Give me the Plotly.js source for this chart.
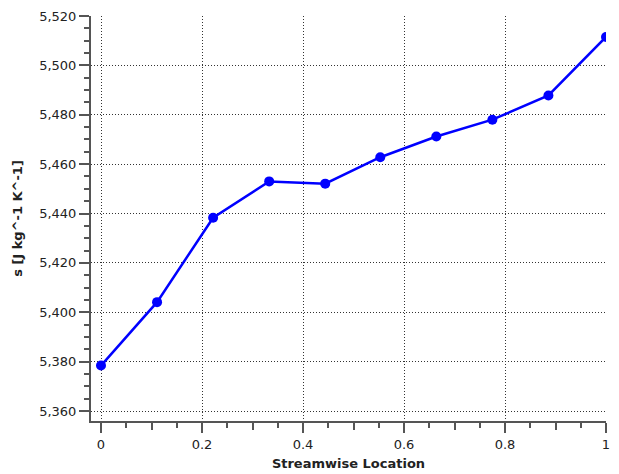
<!DOCTYPE html>
<html>
<head>
<meta charset="utf-8">
<script src="https://cdn.plot.ly/plotly-3.0.1.min.js"></script>
<style>html,body{margin:0;padding:0;background:#fff;}#chart{width:619px;height:474px;}</style>
</head>
<body>
<div id="chart"></div>
<script>
var locations = [0, 0.111, 0.222, 0.333, 0.444, 0.553, 0.664, 0.775, 0.886, 1.0];
var entropy = [5378.4, 5404.1, 5438.3, 5453.0, 5452.1, 5462.8, 5471.2, 5478.0, 5487.8, 5511.5];
var xMajorTicks = [0, 0.2, 0.4, 0.6, 0.8, 1];
var xMajorLabels = ['0', '0.2', '0.4', '0.6', '0.8', '1'];
var xMediumTicks = [0.1, 0.3, 0.5, 0.7, 0.9];
var xTitle = 'Streamwise Location';
var yTitle = 's [J kg^-1 K^-1]';

var font = {family: 'DejaVu Sans, Verdana, sans-serif', size: 13, color: '#222'};
var axisColor = '#555';
var gridColor = '#333';

var trace = {
  x: locations, y: entropy, type: 'scatter', mode: 'lines+markers',
  line: {color: '#0000ff', width: 2.5},
  marker: {color: '#0000ff', size: 10},
  hoverinfo: 'none', showlegend: false
};
var dummy = {x: [0.5], y: [5440], xaxis: 'x2', yaxis: 'y', mode: 'markers',
  marker: {opacity: 0}, showlegend: false, hoverinfo: 'none'};

var xr = [-10/505, 1];
var yr = [5360 - 10*160/395, 5520];

var layout = {
  width: 619, height: 474,
  margin: {l: 91, r: 13, t: 16, b: 53},
  paper_bgcolor: '#fff', plot_bgcolor: '#fff',
  font: font,
  showlegend: false,
  xaxis: {
    range: xr, tickmode: 'array', tickvals: xMajorTicks, ticktext: xMajorLabels,
    ticks: 'outside', ticklen: 10, tickwidth: 2, tickcolor: axisColor,
    showline: true, linecolor: axisColor, linewidth: 2,
    showgrid: true, gridcolor: gridColor, griddash: '1px,2px', gridwidth: 1,
    zeroline: false, tickfont: font,
    minor: {dtick: 0.05, tick0: 0, ticks: 'outside', ticklen: 5, tickwidth: 2, tickcolor: axisColor, showgrid: false},
    title: {text: xTitle, font: {family: 'DejaVu Sans, Verdana, sans-serif', size: 13, color: '#222', weight: 'bold'}, standoff: 8}
  },
  xaxis2: {
    overlaying: 'x', anchor: 'y', side: 'bottom', range: xr,
    tickmode: 'array', tickvals: xMediumTicks, showticklabels: false,
    ticks: 'outside', ticklen: 8, tickwidth: 2, tickcolor: axisColor,
    showgrid: false, zeroline: false, showline: false
  },
  yaxis: {
    range: yr, tick0: 5360, dtick: 20, tickformat: ',d',
    ticks: 'outside', ticklen: 10, tickwidth: 2, tickcolor: axisColor,
    showline: true, linecolor: axisColor, linewidth: 2,
    showgrid: true, gridcolor: gridColor, griddash: '1px,2px', gridwidth: 1,
    zeroline: false, tickfont: font,
    minor: {dtick: 5, tick0: 5360, ticks: 'outside', ticklen: 5, tickwidth: 2, tickcolor: axisColor, showgrid: false},
    title: {text: yTitle, font: {family: 'DejaVu Sans, Verdana, sans-serif', size: 13, color: '#222', weight: 'bold'}, standoff: 14}
  }
};
Plotly.newPlot('chart', [trace, dummy], layout, {staticPlot: true, displayModeBar: false});
</script>
</body>
</html>
